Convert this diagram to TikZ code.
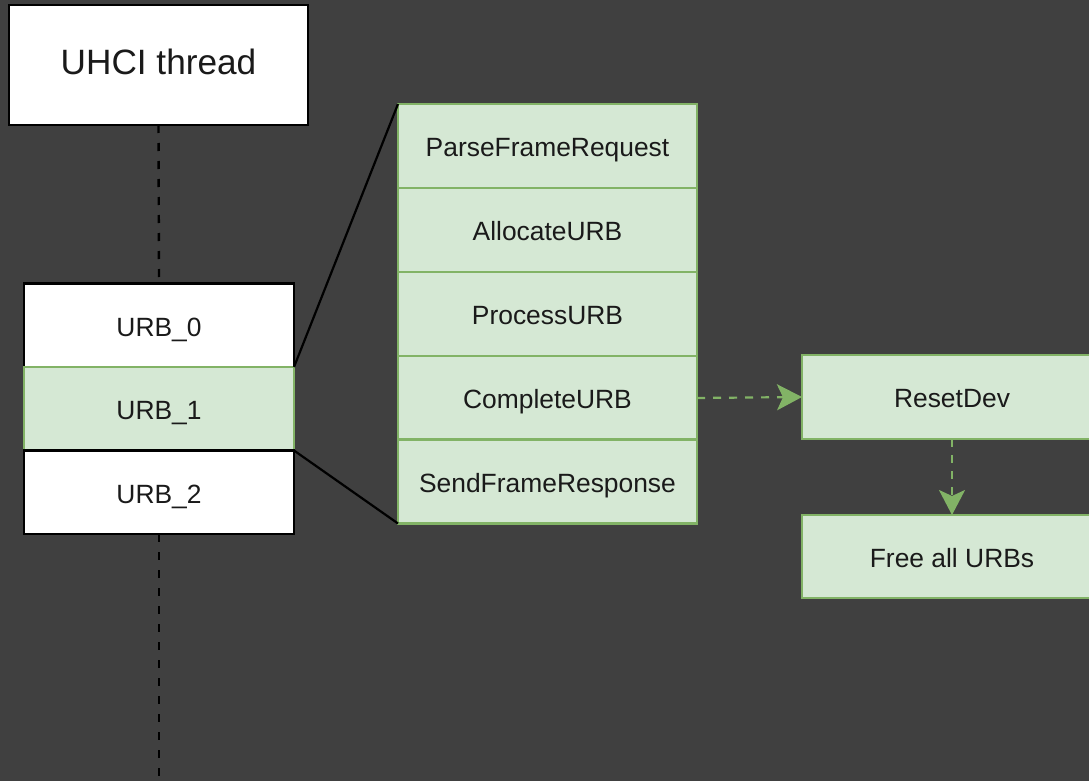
\documentclass[tikz,border=0pt]{standalone}
\usepackage{fontspec}
\setmainfont{Liberation Sans}
\usetikzlibrary{arrows.meta}
\definecolor{bg}{RGB}{64,64,64}
\definecolor{gfill}{HTML}{D5E8D4}
\definecolor{gline}{HTML}{82B366}
\definecolor{txt}{RGB}{26,26,26}
\tikzset{
  base/.style={rectangle, inner sep=0pt, outer sep=0pt, text=txt, font=\fontsize{26.4}{30}\selectfont, text height=21.5pt, text depth=0pt},
  wbox/.style={base, fill=white, draw=black, line width=2.6pt},
  gbox/.style={base, fill=gfill, draw=gline, line width=2.2pt},
  life/.style={draw=black, line width=2.4pt, dash pattern=on 8pt off 10pt},
  zoomline/.style={draw=black, line width=2.2pt},
  garrow/.style={draw=gline, line width=2.2pt, dash pattern=on 8pt off 8pt,
    -{Stealth[length=25pt, width=26pt, inset=6pt, fill=gline]}},
}
\begin{document}
\begin{tikzpicture}[x=1pt, y=-1pt]
\fill[bg] (0,0) rectangle (1089,781);
\useasboundingbox (0,0) rectangle (1089,781);
% UHCI thread
\node[wbox, minimum width=299pt, minimum height=120pt, font=\fontsize{35.2}{40}\selectfont, text height=20pt] (uhci) at (158.5,65) {UHCI thread};
\coordinate (lifeend) at (159,781);
% URB stack
\node[wbox, minimum width=270pt, minimum height=83.5pt] (urb0) at (159,325.25) {URB\_0};
\node[gbox, minimum width=270pt, minimum height=83.5pt] (urb1) at (159,408.75) {URB\_1};
\node[wbox, minimum width=270pt, minimum height=83.5pt] (urb2) at (159,492.25) {URB\_2};
% lifeline
\draw[life] (uhci.south) -- (urb0.north);
\draw[life] (urb2.south) -- (lifeend);
% detail column
\node[gbox, minimum width=299pt, minimum height=84pt] (pfr) at (547.5,146) {ParseFrameRequest};
\node[gbox, minimum width=299pt, minimum height=84pt] (aurb) at (547.5,230) {AllocateURB};
\node[gbox, minimum width=299pt, minimum height=84pt] (purb) at (547.5,314) {ProcessURB};
\node[gbox, minimum width=299pt, minimum height=84pt] (curb) at (547.5,398) {CompleteURB};
\node[gbox, minimum width=299pt, minimum height=84pt] (sfr) at (547.5,481.5) {SendFrameResponse};
% zoom lines
\draw[zoomline] (urb0.south east) -- (pfr.north west);
\draw[zoomline] (urb2.north east) -- (sfr.south west);
% right boxes
\node[gbox, minimum width=300pt, minimum height=84pt] (rd) at (952,397) {ResetDev};
\node[gbox, minimum width=300pt, minimum height=83pt] (fa) at (952,556.5) {Free all URBs};
% arrows
\draw[garrow] (curb.east) -- (rd.west);
\draw[garrow] (rd.south) -- (fa.north);
\end{tikzpicture}
\end{document}
